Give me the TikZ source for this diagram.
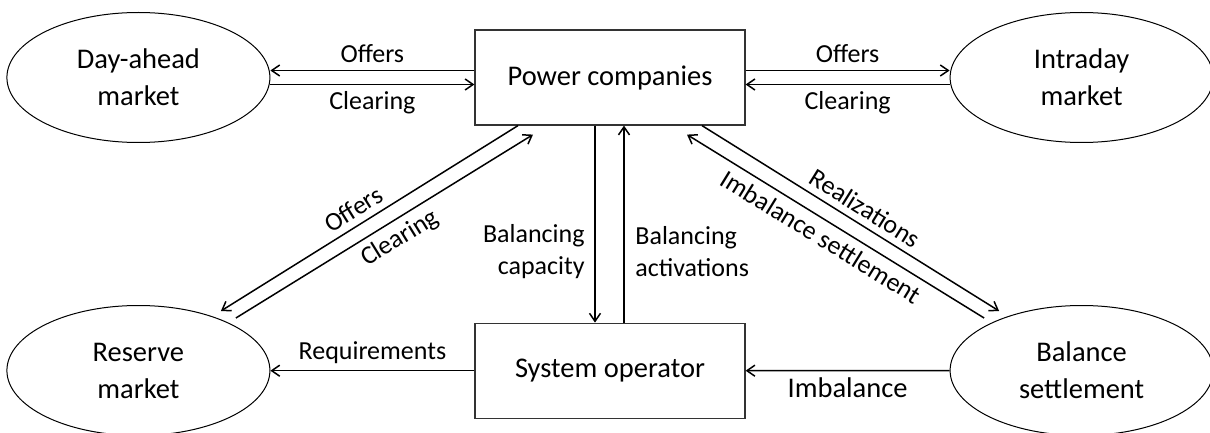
\documentclass[tikz,border=0pt]{standalone}
\usepackage{fontspec}
\setmainfont{Carlito}
\usetikzlibrary{shapes.geometric,arrows.meta,positioning}

\begin{document}
\begin{tikzpicture}[
    market/.style={ellipse, draw=black, line width=0.5pt, inner sep=0pt,
      minimum width=131.5pt, minimum height=65pt, align=center,
      font=\fontsize{14.25}{18.5}\selectfont},
    actor/.style={rectangle, draw=black!80, line width=0.6pt, inner sep=0pt,
      minimum width=135pt, minimum height=47.5pt,
      font=\fontsize{14.25}{18.5}\selectfont},
    flow/.style={->, line width=0.75pt, >={Straight Barb[length=4pt,width=5.5pt]}},
    lbl/.style={font=\fontsize{13}{16}\selectfont}]
      \useasboundingbox (0,0) rectangle (605pt,-216.5pt);
      % Add the parties
      \node[actor] (pc) at (305pt,-38.75pt) {Power companies};
      \node[market, left=102pt of pc] (da) {Day-ahead\\market};
      \node[market, right=102pt of pc] (ir) {Intraday\\market};
      \node[actor, below=98.5pt of pc] (so) {System operator};
      \node[market, below=81pt of da] (rm) {Reserve\\market};
      \node[market, below=81pt of ir] (bs) {Balance\\settlement};
      % Day-ahead and intraday trading
      \draw[flow] ([yshift=3.5pt]pc.west) -- ([yshift=3.5pt]da.east)
        node[lbl, midway, above] {Offers};
      \draw[flow] ([yshift=-3.5pt]da.east) -- ([yshift=-3.5pt]pc.west)
        node[lbl, midway, below] {Clearing};
      \draw[flow] ([yshift=3.5pt]pc.east) -- ([yshift=3.5pt]ir.west)
        node[lbl, midway, above] {Offers};
      \draw[flow] ([yshift=-3.5pt]ir.west) -- ([yshift=-3.5pt]pc.east)
        node[lbl, midway, below] {Clearing};
      % Reserve market
      \draw[flow, <-] ([shift={(41.25pt,29.75pt)}]rm.center) -- ([xshift=-46pt]pc.south)
        node[lbl, pos=0.475, above, sloped] {Offers};
      \draw[flow] ([shift={(48.75pt,26.25pt)}]rm.center) -- ([shift={(-38.5pt,-4.5pt)}]pc.south)
        node[lbl, pos=0.52, below, sloped] {Clearing};
      % Balancing
      \draw[flow] ([xshift=-7.5pt]pc.south) -- ([xshift=-7.5pt]so.north)
        node[lbl, pos=0.64, left=1.5pt, align=right] {Balancing\\capacity};
      \draw[flow] ([xshift=7pt]so.north) -- ([xshift=7pt]pc.south)
        node[lbl, pos=0.36, right=2pt, align=left] {Balancing\\activations};
      % Settlement
      \draw[flow] ([xshift=46pt]pc.south) -- ([shift={(-41.25pt,29.75pt)}]bs.center)
        node[lbl, pos=0.52, above, sloped] {Realizations};
      \draw[flow, <-] ([shift={(38.5pt,-4.5pt)}]pc.south) -- ([shift={(-48.75pt,26.25pt)}]bs.center)
        node[lbl, pos=0.48, below, sloped] {Imbalance settlement};
      \draw[flow] (so.west) -- (so.west -| rm.east)
        node[lbl, midway, above] {Requirements};
      \draw[flow] (bs.west) -- (so.east)
        node[midway, below, font=\fontsize{14.25}{18.5}\selectfont] {Imbalance};
\end{tikzpicture}
\end{document}
